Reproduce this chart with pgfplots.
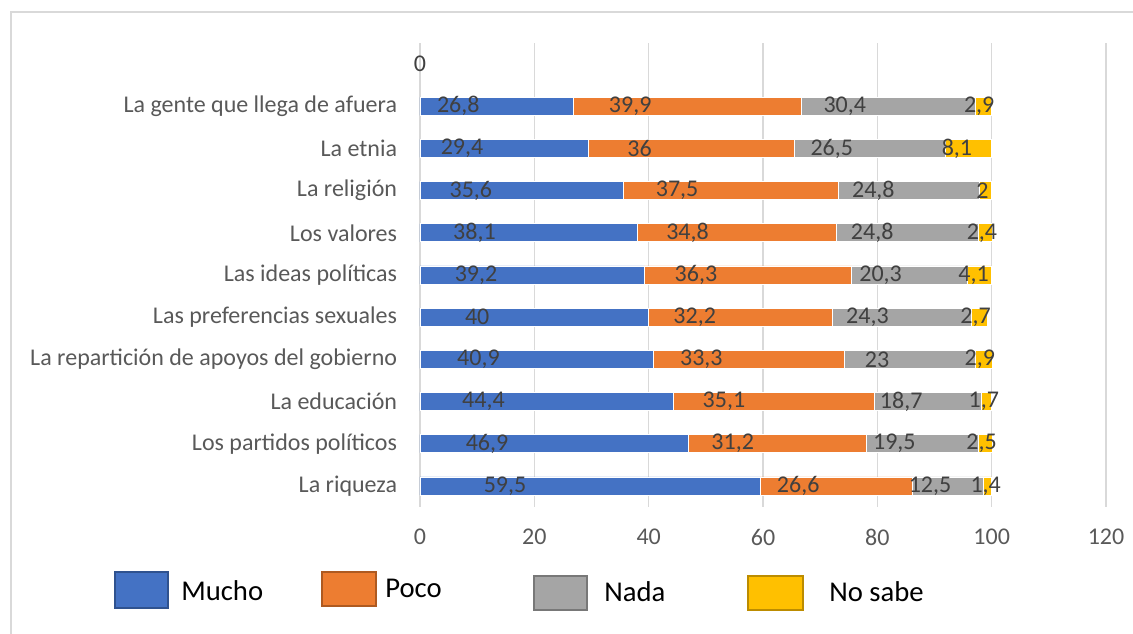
\documentclass[border=0pt]{standalone}
\usepackage{fontspec}
\setmainfont{Carlito}
\usepackage{pgfplots}
\usepackage{pgfplotstable}
\pgfplotsset{compat=1.18}

\definecolor{cmucho}{HTML}{4472C4}
\definecolor{cpoco}{HTML}{ED7D31}
\definecolor{cnada}{HTML}{A5A5A5}
\definecolor{cnosabe}{HTML}{FFC000}
\definecolor{bmucho}{HTML}{2F528F}
\definecolor{bpoco}{HTML}{AE5A21}
\definecolor{bnada}{HTML}{787878}
\definecolor{bnosabe}{HTML}{BC8C00}
\definecolor{labtext}{HTML}{404040}
\definecolor{ticktext}{HTML}{595959}
\definecolor{gridcol}{HTML}{D9D9D9}

% y: 0 = La riqueza ... 9 = La gente que llega de afuera (10 = empty row)
\pgfplotstableread{
y v
0 59.5
1 46.9
2 44.4
3 40.9
4 40
5 39.2
6 38.1
7 35.6
8 29.4
9 26.8
}\mucho
\pgfplotstableread{
y v
0 26.6
1 31.2
2 35.1
3 33.3
4 32.2
5 36.3
6 34.8
7 37.5
8 36
9 39.9
}\poco
\pgfplotstableread{
y v
0 12.5
1 19.5
2 18.7
3 23
4 24.3
5 20.3
6 24.8
7 24.8
8 26.5
9 30.4
}\nada
\pgfplotstableread{
y v
0 1.4
1 2.5
2 1.7
3 2.9
4 2.7
5 4.1
6 2.4
7 2
8 8.1
9 2.9
}\nosabe

% shift back to the segment centre (the style is applied twice, so a quarter)
\pgfplotsset{
  halfoffset/.code={%
    \pgfkeys{/pgf/fpu=true,/pgf/fpu/output format=fixed}%
    \pgfmathsetmacro\halfw{\pgfplotspointmeta*1.071875}%
    \pgfkeys{/pgf/fpu=false}%
  },
}

\newcommand\lab{\fontsize{18}{21}\selectfont}
\newcommand\leg{\fontsize{21.5}{25}\selectfont}

\begin{document}
\begin{tikzpicture}[x=0.75pt,y=0.75pt]
  \useasboundingbox (0,0) rectangle (1133,634);
  % chart frame
  \draw[gridcol, line width=1pt] (11,-5) -- (11,622) -- (1140,622);

  \begin{axis}[
    at={(315pt,95.25pt)}, anchor=south west,
    scale only axis,
    width=514.5pt, height=348pt,
    xbar stacked, bar width=13.5pt,
    xmin=0, xmax=120,
    ymin=-0.5, ymax=10.5,
    xtick={0,20,...,120},
    ytick={0,...,10},
    yticklabels={La riqueza, Los partidos políticos, La educación,
      La repartición de apoyos del gobierno, Las preferencias sexuales,
      Las ideas políticas, Los valores, La religión, La etnia,
      La gente que llega de afuera, {}},
    axis line style={draw=none},
    major tick style={draw=none},
    xmajorgrids, grid style={gridcol, line width=1.1pt},
    tick label style={font=\lab, text=ticktext},
    yticklabel style={inner sep=0pt, xshift=-17pt},
    xticklabel style={anchor=center, yshift=-22.5pt},
    /pgf/number format/.cd, fixed, precision=1, use comma, assume math mode=true,
    /pgfplots/.cd,
    nodes near coords,
    point meta=rawx,
    every node near coord/.append style={font=\lab, text=labtext,
      anchor=center, inner sep=0pt, /pgfplots/halfoffset, xshift=-\halfw pt},
    every axis plot/.append style={draw=white, line width=0.5pt},
    clip=false,
  ]
    \addplot[fill=cmucho] table[x=v, y=y] {\mucho};
    \addplot[fill=cpoco] table[x=v, y=y] {\poco};
    \addplot[fill=cnada] table[x=v, y=y] {\nada};
    \addplot[fill=cnosabe] table[x=v, y=y] {\nosabe};
    % data label of the empty top row
    \node[font=\lab, text=labtext, inner sep=0pt] at (axis cs:0,10) {0};
  \end{axis}

  % legend
  \draw[fill=cmucho, draw=bmucho, line width=1.1pt] (115,26) rectangle (168,62);
  \node[anchor=west, inner sep=0pt, font=\leg] at (181,43) {Mucho};
  \draw[fill=cpoco, draw=bpoco, line width=1.1pt] (322,28) rectangle (376,62);
  \node[anchor=west, inner sep=0pt, font=\leg] at (385,46) {Poco};
  \draw[fill=cnada, draw=bnada, line width=1.1pt] (534,24) rectangle (587,58);
  \node[anchor=west, inner sep=0pt, font=\leg] at (604,42) {Nada};
  \draw[fill=cnosabe, draw=bnosabe, line width=1.1pt] (748,24) rectangle (803,58);
  \node[anchor=west, inner sep=0pt, font=\leg] at (829,42) {No sabe};
\end{tikzpicture}
\end{document}
